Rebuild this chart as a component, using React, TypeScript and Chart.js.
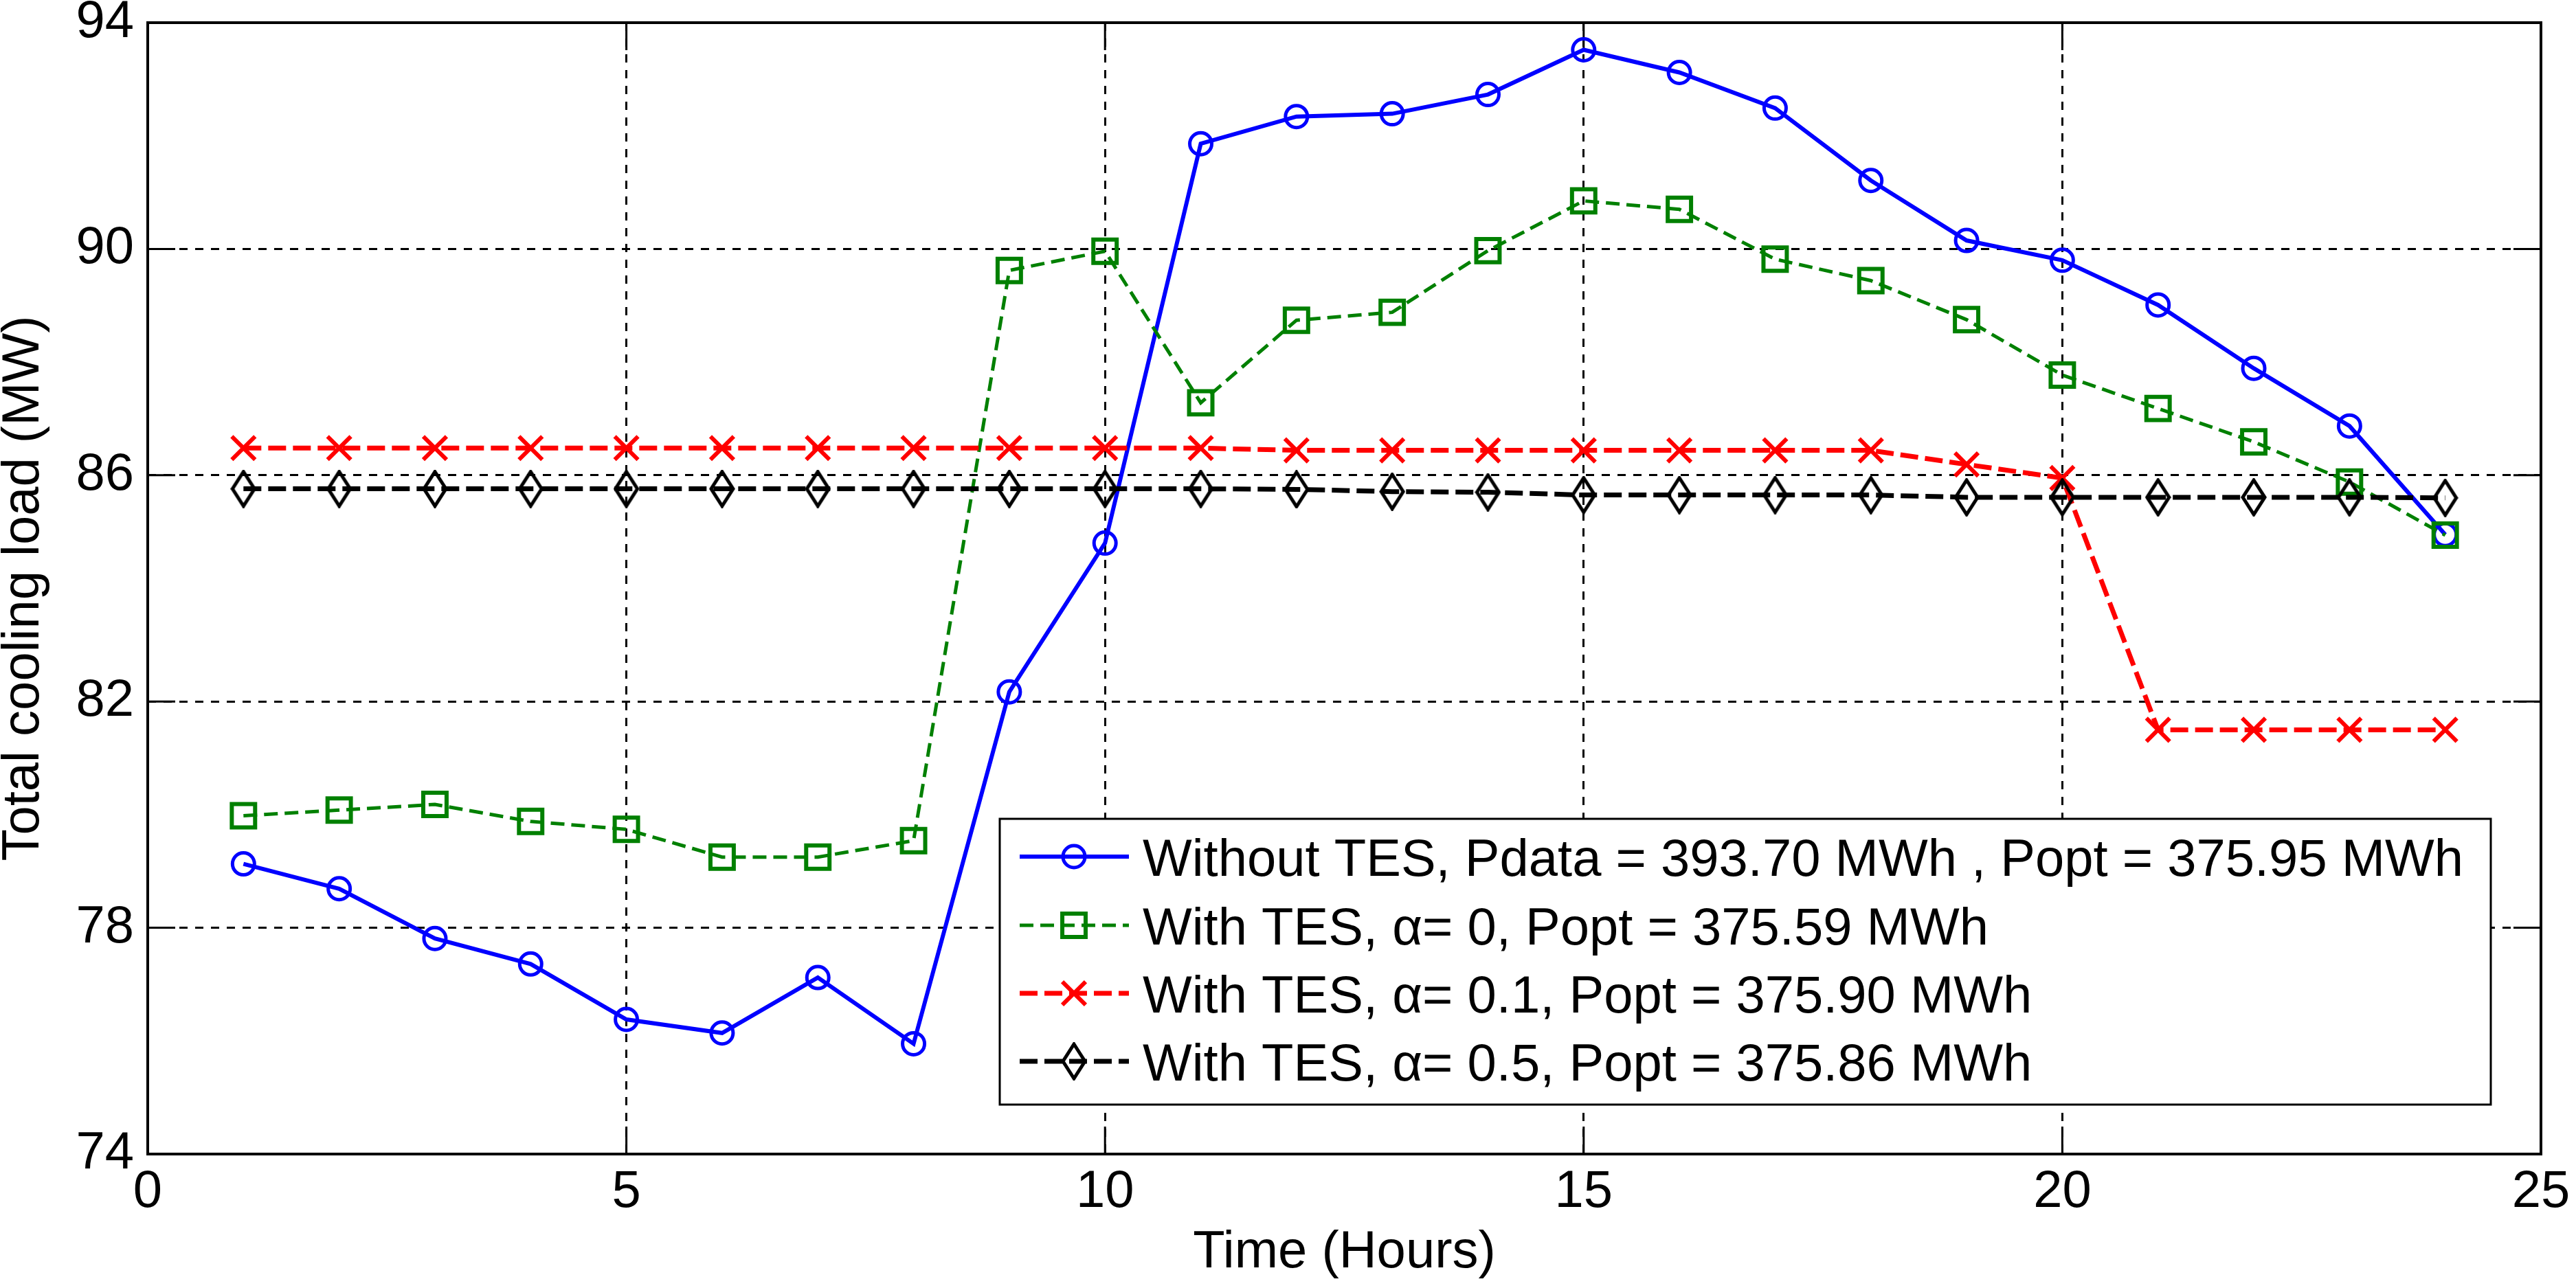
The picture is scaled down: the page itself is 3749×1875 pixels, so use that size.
import React, { useEffect, useRef } from "react";
import { Chart, registerables } from "chart.js";

Chart.register(...registerables);

// values (hourly total cooling load, MW)
const hours = [1, 2, 3, 4, 5, 6, 7, 8, 9, 10, 11, 12, 13, 14, 15, 16, 17, 18, 19, 20, 21, 22, 23, 24];
const withoutTes = [79.13, 78.69, 77.81, 77.36, 76.38, 76.14, 77.12, 75.95, 82.17, 84.8, 91.86, 92.34, 92.39, 92.73, 93.52, 93.12, 92.49, 91.21, 90.15, 89.8, 89.01, 87.89, 86.87, 84.95];
const tesAlpha0 = [79.98, 80.08, 80.18, 79.88, 79.74, 79.25, 79.25, 79.54, 89.62, 89.96, 87.28, 88.74, 88.88, 89.97, 90.85, 90.7, 89.82, 89.44, 88.75, 87.77, 87.18, 86.59, 85.88, 84.94];
const tesAlpha01 = [86.48, 86.48, 86.48, 86.48, 86.48, 86.48, 86.48, 86.48, 86.48, 86.48, 86.48, 86.44, 86.44, 86.44, 86.44, 86.44, 86.44, 86.44, 86.19, 85.95, 81.5, 81.5, 81.5, 81.5];
const tesAlpha05 = [85.76, 85.76, 85.76, 85.76, 85.76, 85.76, 85.76, 85.76, 85.76, 85.76, 85.76, 85.75, 85.71, 85.7, 85.65, 85.65, 85.65, 85.65, 85.61, 85.61, 85.61, 85.61, 85.61, 85.6];

const seriesLabels = [
  "Without TES, Pdata = 393.70 MWh , Popt = 375.95 MWh",
  "With TES, α= 0, Popt = 375.59 MWh",
  "With TES, α= 0.1, Popt = 375.90 MWh",
  "With TES, α= 0.5, Popt = 375.86 MWh",
];

const xTickValues = [0, 5, 10, 15, 20, 25];
const yTickValues = [74, 78, 82, 86, 90, 94];

const FONT = "'Liberation Sans', Arial, Helvetica, sans-serif";
const TICK_LEN = 40;

// matlab style narrow diamond marker
const makeDiamond = () => {
  const c = document.createElement("canvas");
  c.width = 38;
  c.height = 56;
  const g = c.getContext("2d");
  if (g) {
    g.strokeStyle = "#000";
    g.lineWidth = 5;
    g.beginPath();
    g.moveTo(19, 3);
    g.lineTo(35, 28);
    g.lineTo(19, 53);
    g.lineTo(3, 28);
    g.closePath();
    g.stroke();
  }
  return c;
};

const drawMarker = (ctx: CanvasRenderingContext2D, ds: any, x: number, y: number) => {
  const r = ds.pointRadius;
  ctx.save();
  ctx.strokeStyle = ds.pointBorderColor;
  ctx.lineWidth = ds.pointBorderWidth;
  ctx.setLineDash([]);
  ctx.beginPath();
  if (ds.pointStyle === "circle") {
    ctx.arc(x, y, r, 0, Math.PI * 2);
  } else if (ds.pointStyle === "rect") {
    const s = Math.SQRT1_2 * r;
    ctx.rect(x - s, y - s, 2 * s, 2 * s);
  } else if (ds.pointStyle === "crossRot") {
    const s = Math.SQRT1_2 * r;
    ctx.moveTo(x - s, y - s);
    ctx.lineTo(x + s, y + s);
    ctx.moveTo(x - s, y + s);
    ctx.lineTo(x + s, y - s);
  } else if (typeof ds.pointStyle === "object") {
    const img = ds.pointStyle as HTMLCanvasElement;
    ctx.drawImage(img, x - img.width / 2, y - img.height / 2);
  }
  ctx.stroke();
  ctx.restore();
};

// box round the axes plus inward tick marks
const boxPlugin = {
  id: "axesBox",
  beforeDatasetsDraw(chart: any) {
    const { ctx, chartArea } = chart;
    const { left, right, top, bottom } = chartArea;
    const xs = chart.scales.x;
    const ys = chart.scales.y;
    ctx.save();
    ctx.setLineDash([]);
    ctx.strokeStyle = "#000";
    ctx.lineWidth = 3;
    ctx.beginPath();
    xs.ticks.forEach((t: any) => {
      const px = xs.getPixelForValue(t.value);
      ctx.moveTo(px, bottom);
      ctx.lineTo(px, bottom - TICK_LEN);
      ctx.moveTo(px, top);
      ctx.lineTo(px, top + TICK_LEN);
    });
    ys.ticks.forEach((t: any) => {
      const py = ys.getPixelForValue(t.value);
      ctx.moveTo(left, py);
      ctx.lineTo(left + TICK_LEN, py);
      ctx.moveTo(right, py);
      ctx.lineTo(right - TICK_LEN, py);
    });
    ctx.stroke();
    ctx.lineWidth = 4;
    ctx.strokeRect(left, top, right - left, bottom - top);
    ctx.restore();
  },
};

const legendPlugin = {
  id: "insideLegend",
  afterDatasetsDraw(chart: any) {
    const ctx: CanvasRenderingContext2D = chart.ctx;
    const box = { left: 1455, top: 1192, right: 3625, bottom: 1608 };
    const rowY = [1247, 1347, 1446, 1545];
    ctx.save();
    ctx.fillStyle = "#fff";
    ctx.fillRect(box.left, box.top, box.right - box.left, box.bottom - box.top);
    ctx.strokeStyle = "#000";
    ctx.lineWidth = 3;
    ctx.setLineDash([]);
    ctx.strokeRect(box.left, box.top, box.right - box.left, box.bottom - box.top);
    chart.data.datasets.forEach((ds: any, i: number) => {
      const yy = rowY[i];
      ctx.strokeStyle = ds.borderColor;
      ctx.lineWidth = ds.borderWidth;
      ctx.setLineDash(ds.borderDash || []);
      ctx.beginPath();
      ctx.moveTo(1484, yy);
      ctx.lineTo(1643, yy);
      ctx.stroke();
      ctx.setLineDash([]);
      drawMarker(ctx, ds, 1563, yy);
      ctx.fillStyle = "#000";
      ctx.font = `76px ${FONT}`;
      ctx.textBaseline = "alphabetic";
      ctx.textAlign = "left";
      ctx.fillText(ds.label, 1663, yy + 28);
    });
    ctx.restore();
  },
};

const App = () => {
  const canvasRef = useRef<HTMLCanvasElement>(null);

  useEffect(() => {
    if (!canvasRef.current) return;
    const ctx = canvasRef.current.getContext("2d");
    if (!ctx) return;

    const pts = (vals: number[]) => vals.map((v, i) => ({ x: hours[i], y: v }));
    const tickFont = { family: FONT, size: 76, lineHeight: 1.2 };

    const chart = new Chart(ctx, {
      type: "line",
      data: {
        datasets: [
          {
            label: seriesLabels[0],
            data: pts(withoutTes),
            borderColor: "#0000ff",
            borderWidth: 6,
            pointStyle: "circle",
            pointRadius: 16,
            pointBorderWidth: 5,
            pointBorderColor: "#0000ff",
            pointBackgroundColor: "rgba(0,0,0,0)",
            order: 4,
          },
          {
            label: seriesLabels[1],
            data: pts(tesAlpha0),
            borderColor: "#008000",
            borderWidth: 5,
            borderDash: [20, 10],
            pointStyle: "rect",
            pointRadius: 24,
            pointBorderWidth: 6,
            pointBorderColor: "#008000",
            pointBackgroundColor: "rgba(0,0,0,0)",
            order: 3,
          },
          {
            label: seriesLabels[2],
            data: pts(tesAlpha01),
            borderColor: "#ff0000",
            borderWidth: 7,
            borderDash: [26, 10],
            pointStyle: "crossRot",
            pointRadius: 24,
            pointBorderWidth: 6,
            pointBorderColor: "#ff0000",
            pointBackgroundColor: "rgba(0,0,0,0)",
            order: 2,
          },
          {
            label: seriesLabels[3],
            data: pts(tesAlpha05),
            borderColor: "#000000",
            borderWidth: 7,
            borderDash: [26, 10],
            pointStyle: makeDiamond() as any,
            pointRadius: 20,
            pointBorderWidth: 5,
            pointBorderColor: "#000000",
            pointBackgroundColor: "rgba(0,0,0,0)",
            order: 1,
          },
        ],
      },
      options: {
        animation: false,
        responsive: false,
        layout: { padding: { left: 0, right: 51, top: 33, bottom: 0 } },
        plugins: {
          legend: { display: false },
          tooltip: { enabled: false },
        },
        scales: {
          x: {
            type: "linear",
            min: 0,
            max: 25,
            afterBuildTicks: (scale: any) => {
              scale.ticks = xTickValues.map((v) => ({ value: v }));
            },
            afterFit: (scale: any) => {
              scale.height = 195;
              scale.paddingLeft = 0;
              scale.paddingRight = 0;
            },
            grid: { color: "#000", lineWidth: 3, drawTicks: false },
            border: { display: false, dash: [12, 11] },
            ticks: { color: "#000", font: tickFont, padding: 10, maxRotation: 0 },
            title: {
              display: true,
              text: "Time (Hours)",
              color: "#000",
              font: tickFont,
              padding: { top: 0, bottom: 5 },
            },
          },
          y: {
            type: "linear",
            min: 74,
            max: 94,
            afterBuildTicks: (scale: any) => {
              scale.ticks = yTickValues.map((v) => ({ value: v }));
            },
            afterFit: (scale: any) => {
              scale.width = 215;
              scale.paddingTop = 0;
              scale.paddingBottom = 0;
            },
            grid: { color: "#000", lineWidth: 3, drawTicks: false },
            border: { display: false, dash: [12, 11] },
            ticks: { color: "#000", font: tickFont, padding: 20 },
            title: {
              display: true,
              text: "Total cooling load (MW)",
              color: "#000",
              font: { family: FONT, size: 76, lineHeight: 0.9 },
              padding: { top: 1, bottom: 0 },
            },
          },
        },
      },
      plugins: [boxPlugin, legendPlugin],
    });

    return () => {
      chart.destroy();
    };
  }, []);

  return (
    <div style={{ position: "fixed", left: 0, top: 0, width: 3749, height: 1875, background: "#fff" }}>
      <canvas ref={canvasRef} width={3749} height={1875} style={{ width: 3749, height: 1875 }}></canvas>
    </div>
  );
};

export default App;
